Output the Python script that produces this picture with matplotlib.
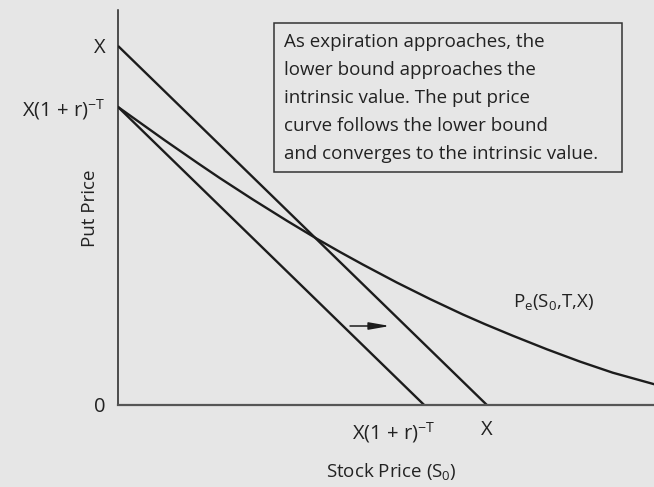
import matplotlib.pyplot as plt
from matplotlib.patches import Rectangle
from matplotlib.transforms import ScaledTranslation

# Put price vs stock price
stock_curve = [0, 12.7, 21.7, 27.6, 36.6, 45.8, 53.9, 60.2, 66.4, 75.6, 84.6,
               93.5, 99.5, 107.0, 116.3, 125.2, 134.1, 145.3]
put_curve = [83.0, 73.7, 67.3, 63.2, 57.2, 51.3, 46.3, 42.6, 39.1, 34.1, 29.5,
             25.2, 22.5, 19.3, 15.5, 12.1, 9.0, 5.8]

strike = 100
pv_strike = 83
intrinsic_x = [0, strike]
intrinsic_y = [strike, 0]
bound_x = [0, pv_strike]
bound_y = [pv_strike, 0]

pv_label = r'X(1 + r)$^{\mathregular{-T}}$'
box_lines = ["As expiration approaches, the",
             "lower bound approaches the",
             "intrinsic value. The put price",
             "curve follows the lower bound",
             "and converges to the intrinsic value."]

bg = '#e6e6e6'
ink = '#1c1c1c'
txt = '#222222'
plt.rcParams['font.family'] = ['Open Sans', 'DejaVu Sans']
plt.rcParams['mathtext.fontset'] = 'custom'
plt.rcParams['mathtext.rm'] = 'Open Sans'
plt.rcParams['mathtext.it'] = 'Open Sans:italic'

W, H = 654, 487
fig = plt.figure(figsize=(W / 100, H / 100), dpi=100, facecolor=bg)
ax = fig.add_axes([118 / W, 82 / H, 536 / W, 395 / H], facecolor=bg)
ax.set_xlim(0, 145.3)
ax.set_ylim(0, 110)

ax.plot(intrinsic_x, intrinsic_y, color=ink, lw=1.7, solid_capstyle='butt')
ax.plot(bound_x, bound_y, color=ink, lw=1.7, solid_capstyle='butt')
ax.plot(stock_curve, put_curve, color=ink, lw=1.7, solid_joinstyle='round')

for s in ['top', 'right']:
    ax.spines[s].set_visible(False)
ax.spines['left'].set_color('#222222')
ax.spines['left'].set_linewidth(1.1)
ax.spines['bottom'].set_color('#555555')
ax.spines['bottom'].set_linewidth(1.6)

ax.set_yticks([0, pv_strike, strike])
ax.set_yticklabels(['0', pv_label, 'X'])
ax.set_xticks([pv_strike, strike])
ax.set_xticklabels([pv_label, 'X'])
ax.tick_params(length=0, labelsize=14.5, colors=txt)
ax.tick_params(axis='y', pad=9)
ax.tick_params(axis='x', pad=11)
lab = ax.get_xticklabels()[0]
lab.set_transform(lab.get_transform() + ScaledTranslation(-31 / 100, 0, fig.dpi_scale_trans))

ax.set_xlabel(r'Stock Price (S$_{\mathregular{0}}$)', fontsize=13.5, color=txt, va='center')
ax.xaxis.set_label_coords((391 - 118) / 536, (405 - 472) / 395)
ax.set_ylabel('Put Price', fontsize=13.5, color=txt, va='center')
ax.yaxis.set_label_coords((90 - 118) / 536, (405 - 208) / 395)

# shift arrow
ax.annotate('', xy=(73.7, 22.0), xytext=(62.9, 22.0),
            arrowprops=dict(arrowstyle='-|>,head_length=1.25,head_width=0.22',
                            color=ink, lw=1.1, shrinkA=0, shrinkB=0))
ax.text(107, 28.6, r'P$_{\mathregular{e}}$(S$_{\mathregular{0}}$,T,X)', fontsize=13.5,
        color=txt, va='center')

# note box
fig.patches.append(Rectangle((274 / W, 1 - 172 / H), 348 / W, 149 / H,
                             transform=fig.transFigure, fill=False,
                             edgecolor='#333333', lw=1.1))
for i, line in enumerate(box_lines):
    fig.text(284 / W, 1 - (42 + 28 * i) / H, line, fontsize=13.5,
             color=txt, va='center', ha='left')

fig.savefig('out.png', dpi=100, facecolor=bg)
